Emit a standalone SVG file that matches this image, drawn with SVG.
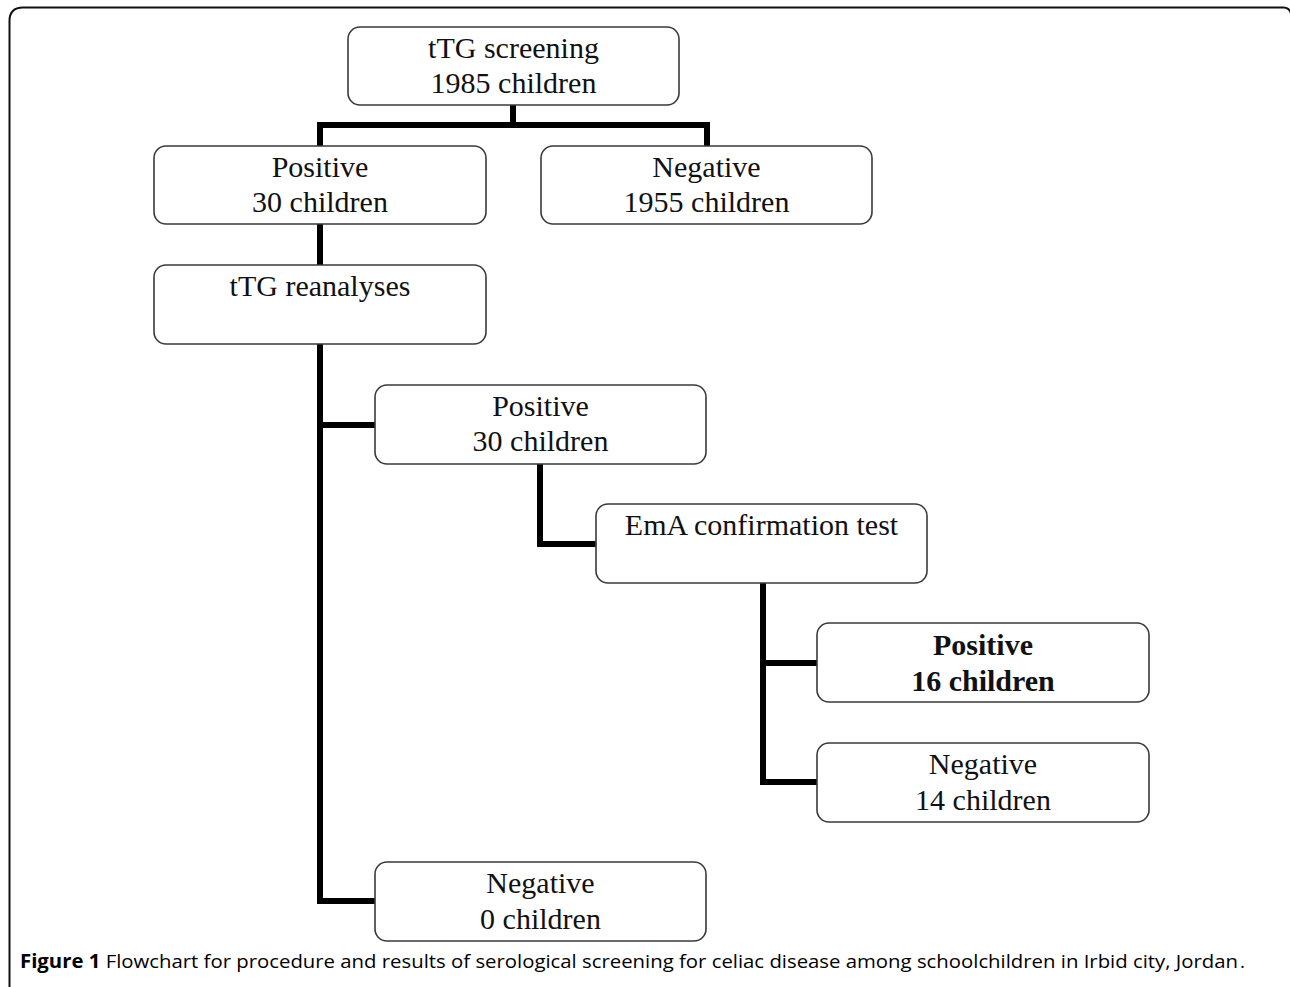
<svg xmlns="http://www.w3.org/2000/svg" width="1290" height="987" viewBox="0 0 1290 987">
<style>
.box{fill:#fff;stroke:#3a3a3a;stroke-width:1.6}
.t{font-family:"Liberation Serif","Times New Roman",serif;font-size:30px;fill:#111;text-anchor:middle}
.b{font-weight:bold}
.c{fill:none;stroke:#000;stroke-width:6;stroke-linecap:butt;stroke-linejoin:miter}
.cap{font-family:"Open Sans","DejaVu Sans",sans-serif;font-size:19px;fill:#000}
</style>
<rect width="1290" height="987" fill="#fff"/>
<path d="M9.5 995 V21 Q9.5 7.5 23 7.5 H1283 Q1290 7.5 1291 14 V995" fill="none" stroke="#111" stroke-width="2"/>
<g id="connectors">
<path class="c" d="M513 105 V125 M320 146 V125 H707 V146"/>
<path class="c" d="M320 224 V265"/>
<path class="c" d="M320 344 V901 H375 M320 425 H375"/>
<path class="c" d="M540 464 V544 H596"/>
<path class="c" d="M763 583 V782 H817 M763 663 H817"/>
</g>
<g id="n1"><rect class="box" x="348" y="27" width="331" height="78" rx="12"/><text class="t" x="513.5" y="58">tTG screening</text><text class="t" x="513.5" y="93">1985 children</text></g>
<g id="n2"><rect class="box" x="154" y="146" width="332" height="78" rx="12"/><text class="t" x="320" y="177">Positive</text><text class="t" x="320" y="212">30 children</text></g>
<g id="n3"><rect class="box" x="541" y="146" width="331" height="78" rx="12"/><text class="t" x="706.5" y="177">Negative</text><text class="t" x="706.5" y="212">1955 children</text></g>
<g id="n4"><rect class="box" x="154" y="265" width="332" height="79" rx="12"/><text class="t" x="320" y="296">tTG reanalyses</text></g>
<g id="n5"><rect class="box" x="375" y="385" width="331" height="79" rx="12"/><text class="t" x="540.5" y="416">Positive</text><text class="t" x="540.5" y="451">30 children</text></g>
<g id="n6"><rect class="box" x="596" y="504" width="331" height="79" rx="12"/><text class="t" x="761.5" y="535">EmA confirmation test</text></g>
<g id="n7"><rect class="box" x="817" y="623" width="332" height="79" rx="12"/><text class="t b" x="983" y="655">Positive</text><text class="t b" x="983" y="691">16 children</text></g>
<g id="n8"><rect class="box" x="817" y="743" width="332" height="79" rx="12"/><text class="t" x="983" y="774">Negative</text><text class="t" x="983" y="810">14 children</text></g>
<g id="n9"><rect class="box" x="375" y="862" width="331" height="79" rx="12"/><text class="t" x="540.5" y="893">Negative</text><text class="t" x="540.5" y="929">0 children</text></g>
<text class="cap" x="20" y="968" textLength="1218" lengthAdjust="spacingAndGlyphs"><tspan font-weight="bold">Figure 1</tspan> Flowchart for procedure and results of serological screening for celiac disease among schoolchildren in Irbid city, Jordan</text>
<text class="cap" x="1240" y="968" font-size="12">.</text>
</svg>
